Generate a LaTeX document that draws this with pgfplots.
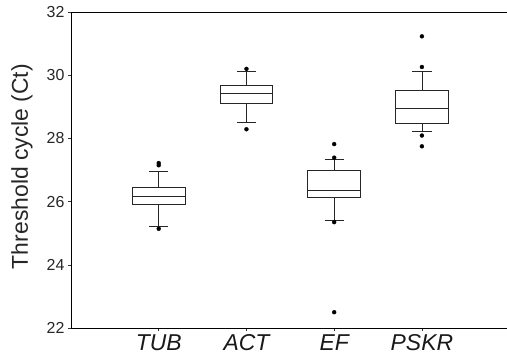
\documentclass[border=0pt]{standalone}
\usepackage{fontspec}
\setmainfont{Liberation Sans}
\usepackage{pgfplots}
\pgfplotsset{compat=1.18}
\usepgfplotslibrary{statistics}
\begin{document}
\begin{tikzpicture}
\begin{axis}[
  scale only axis,
  width=436bp, height=316bp,
  xmin=0, xmax=4.97,
  ymin=22, ymax=32,
  ytick={22,24,...,32},
  xtick={1,2,3,4},
  xticklabels={TUB,ACT,EF,PSKR},
  axis x line*=box, axis y line*=left,
  xtick pos=bottom, ytick pos=left,
  tick align=outside,
  major tick length=3bp,
  every tick/.style={black!80, line width=0.5bp},
  axis line style={black, line width=0.8bp},
  /pgf/number format/assume math mode=true,
  yticklabel style={font=\fontsize{16}{19}\selectfont, color=black!85},
  xticklabel style={font=\fontsize{23}{27}\selectfont\itshape, color=black!90},
  ylabel={Threshold cycle (Ct)},
  ylabel style={font=\fontsize{23}{27}\selectfont, color=black!85, at={(axis description cs:-0.1124,0.511)}, anchor=center},
  boxplot/draw direction=y,
  boxplot/box extend=0.6,
  boxplot/whisker extend=0.22,
  every boxplot/.style={draw=black!85, line width=0.8bp, mark=*, mark size=2bp, mark options={fill=black, draw=black, line width=0.3bp}},
]
\addplot[boxplot prepared={draw position=1, lower whisker=25.21, lower quartile=25.91, median=26.155, upper quartile=26.44, upper whisker=26.94}]
  table[row sep=\\, y index=0] {27.15\\ 27.22\\ 25.14\\};
\addplot[boxplot prepared={draw position=2, lower whisker=28.52, lower quartile=29.12, median=29.43, upper quartile=29.67, upper whisker=30.11}]
  table[row sep=\\, y index=0] {30.2\\ 28.29\\};
\addplot[boxplot prepared={draw position=3, lower whisker=25.42, lower quartile=26.12, median=26.37, upper quartile=27.0, upper whisker=27.32}]
  table[row sep=\\, y index=0] {27.82\\ 27.39\\ 25.35\\ 22.5\\};
\addplot[boxplot prepared={draw position=4, lower whisker=28.21, lower quartile=28.49, median=28.95, upper quartile=29.51, upper whisker=30.12}]
  table[row sep=\\, y index=0] {31.23\\ 30.26\\ 28.09\\ 27.75\\};
\coordinate (SW) at (rel axis cs:0,0);
\coordinate (NE) at (rel axis cs:1,1);
\end{axis}
\pgfresetboundingbox
\path ([xshift=-71bp,yshift=-32bp]SW) rectangle ([yshift=12bp]NE);
\end{tikzpicture}
\end{document}
